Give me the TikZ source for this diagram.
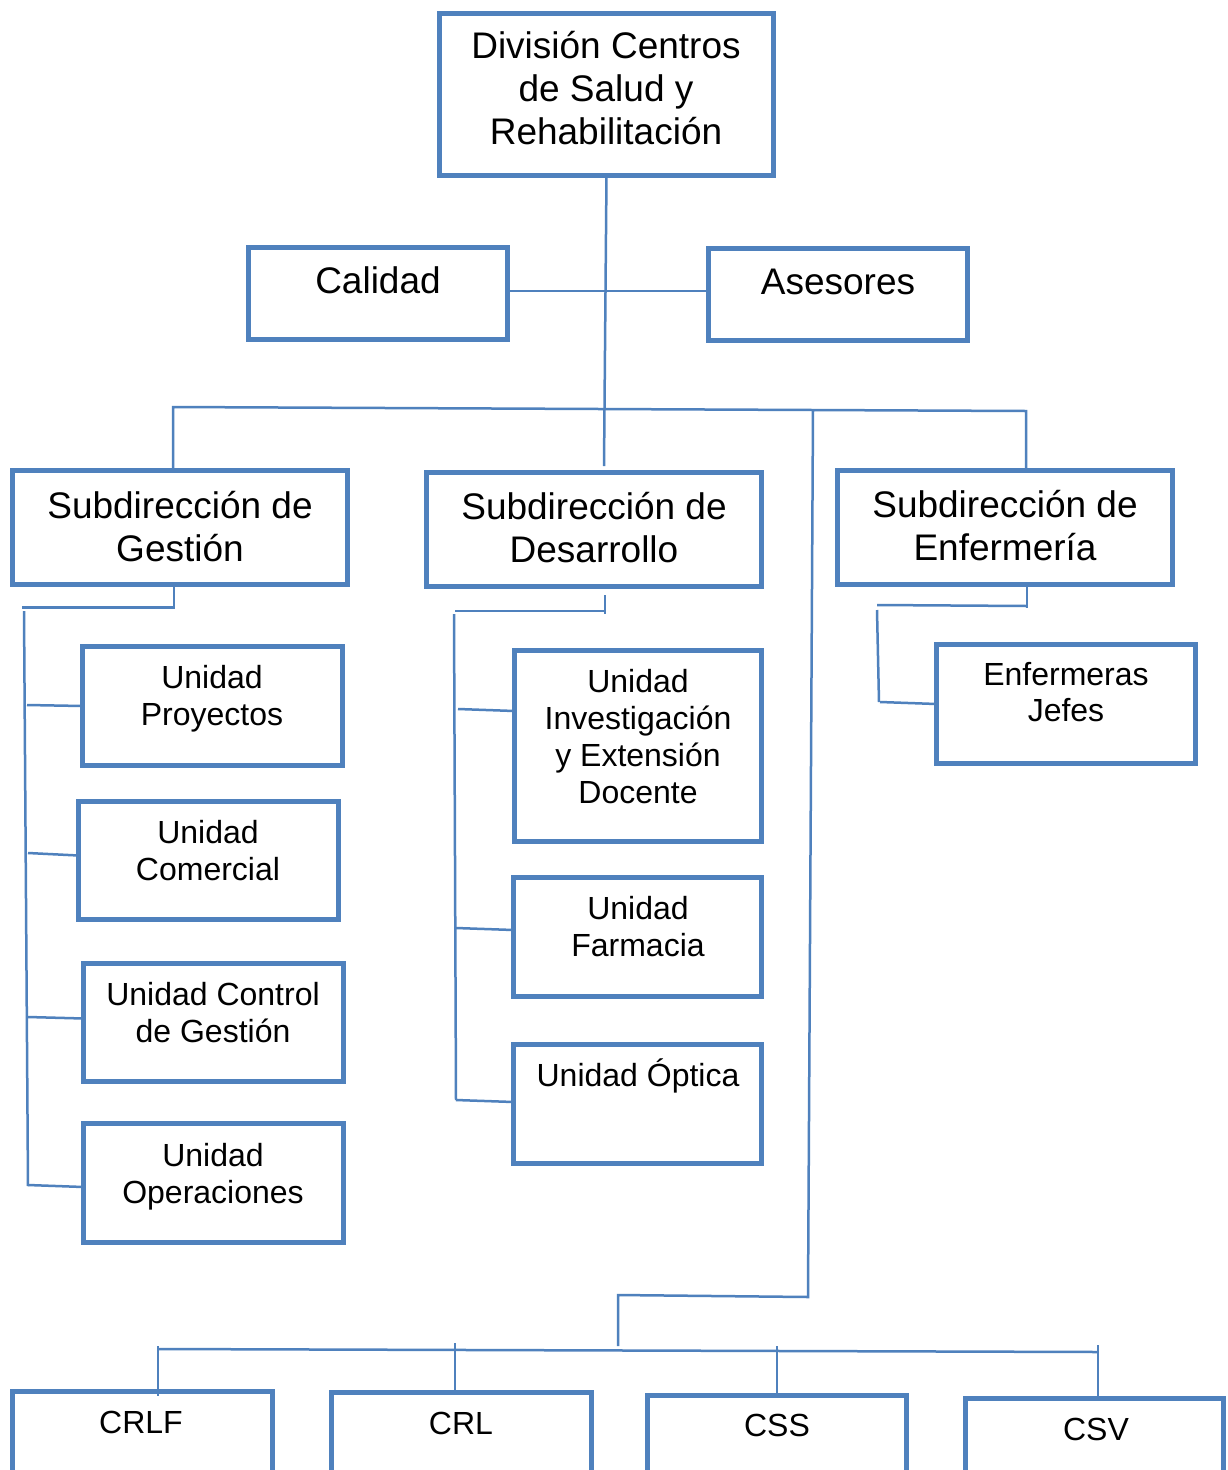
\documentclass[tikz,border=0pt]{standalone}
\usepackage{fontspec}
\setmainfont{Liberation Sans}
\definecolor{boxblue}{HTML}{4F81BD}
\begin{document}
\begin{tikzpicture}[x=1pt,y=-1pt,
  box/.style={draw=boxblue, line width=5pt, rectangle, inner sep=0pt, outer sep=0pt},
  conn/.style={draw=boxblue, line width=2.5pt},
  bigtxt/.style={font=\fontsize{37}{43}\selectfont, align=center, inner sep=0pt, anchor=north},
  smalltxt/.style={font=\fontsize{32}{37}\selectfont, align=center, inner sep=0pt, anchor=north},
  enftxt/.style={font=\fontsize{32}{36}\selectfont, align=center, inner sep=0pt, anchor=north}]
\clip (0,0) rectangle (1227,1470);
\fill[white] (0,0) rectangle (1227,1470);
% boxes
\node[box, minimum width=334pt, minimum height=162pt] (top) at (606.5,94.5) {};
\node[box, minimum width=259pt, minimum height=92pt] (cal) at (378,293.5) {};
\node[box, minimum width=259pt, minimum height=92pt] (ase) at (838,294.5) {};
\node[box, minimum width=335pt, minimum height=114pt] (sg) at (180,527.5) {};
\node[box, minimum width=335pt, minimum height=114pt] (sd) at (594,529.5) {};
\node[box, minimum width=335pt, minimum height=114pt] (se) at (1005,527.5) {};
\node[box, minimum width=260pt, minimum height=119pt] (up) at (212.5,706) {};
\node[box, minimum width=260pt, minimum height=118pt] (uc) at (208.5,860.5) {};
\node[box, minimum width=260pt, minimum height=118pt] (ucg) at (213.5,1022.5) {};
\node[box, minimum width=260pt, minimum height=119pt] (uo) at (213.5,1183) {};
\node[box, minimum width=247pt, minimum height=191pt] (ui) at (638,746) {};
\node[box, minimum width=248pt, minimum height=119pt] (uf) at (637.5,937) {};
\node[box, minimum width=248pt, minimum height=119pt] (uop) at (637.5,1104) {};
\node[box, minimum width=259pt, minimum height=119pt] (ej) at (1066,704) {};
\node[box, minimum width=260pt, minimum height=108.5pt] (crlf) at (142.5,1445.75) {};
\node[box, minimum width=260pt, minimum height=107.5pt] (crl) at (461.5,1446.25) {};
\node[box, minimum width=259pt, minimum height=104.5pt] (css) at (777,1447.75) {};
\node[box, minimum width=258pt, minimum height=101.5pt] (csv) at (1094.5,1449.25) {};
% texts
\node[bigtxt] (topT) at (606,22) {\rule{0pt}{36pt}División Centros\\de Salud y\\Rehabilitación};
\node[bigtxt] (calT) at (378,257) {\rule{0pt}{36pt}Calidad};
\node[bigtxt] (aseT) at (838,258) {\rule{0pt}{36pt}Asesores};
\node[bigtxt] (sgT) at (180,482) {\rule{0pt}{36pt}Subdirección de\\Gestión};
\node[bigtxt] (sdT) at (594,483) {\rule{0pt}{36pt}Subdirección de\\Desarrollo};
\node[bigtxt] (seT) at (1005,481) {\rule{0pt}{36pt}Subdirección de\\Enfermería};
\node[smalltxt] (upT) at (212,657) {\rule{0pt}{31pt}Unidad\\Proyectos};
\node[smalltxt] (ucT) at (208,812) {\rule{0pt}{31pt}Unidad\\Comercial};
\node[smalltxt] (ucgT) at (213,974) {\rule{0pt}{31pt}Unidad Control\\de Gestión};
\node[smalltxt] (uoT) at (213,1135) {\rule{0pt}{31pt}Unidad\\Operaciones};
\node[smalltxt] (uiT) at (638,661) {\rule{0pt}{31pt}Unidad\\Investigación\\y Extensión\\Docente};
\node[smalltxt] (ufT) at (638,888) {\rule{0pt}{31pt}Unidad\\Farmacia};
\node[smalltxt] (uopT) at (638,1055) {\rule{0pt}{31pt}Unidad Óptica};
\node[enftxt] (ejT) at (1066,654) {\rule{0pt}{31pt}Enfermeras\\Jefes};
\node[smalltxt] (crlfT) at (141,1402) {\rule{0pt}{31pt}CRLF};
\node[smalltxt] (crlT) at (461,1403) {\rule{0pt}{31pt}CRL};
\node[smalltxt] (cssT) at (777,1405) {\rule{0pt}{31pt}CSS};
\node[smalltxt] (csvT) at (1096,1409) {\rule{0pt}{31pt}CSV};
% junction coordinates
\coordinate (busL) at (173,407);
\coordinate (busV) at (813,410);
\coordinate (busR) at (1026,411);
\coordinate (vBot) at (808,1297);
\coordinate (hEnd) at (618,1295);
\coordinate (hDrop) at (618,1346);
\coordinate (bL) at (158,1349);
\coordinate (bR) at (1098,1352);
% top connectors
\draw[conn] (top.south) -- (604,466);
\draw[conn] ([yshift=2.5pt]cal.east) -- ([yshift=3.5pt]ase.west);
\draw[conn] (busL |- sg.north) -- (busL) -- (busR) -- (busR |- se.north);
\draw[conn] (busV) -- (vBot) -- (hEnd) -- (hDrop);
% bottom bus
\draw[conn] (bL) -- (bR);
\draw[conn] (158,1346) -- (158,1396);
\draw[conn] (455,1343) -- (455,1392);
\draw[conn] (777,1346) -- (777,1397);
\draw[conn] (1098,1345) -- (1098,1398);
% Gestion subtree
\draw[conn] (174,587) -- (174,609);
\draw[conn] (174,607.5) -- (22,607.5);
\draw[conn] (24,611) -- (28,1186);
\draw[conn] (27,705) -- (up.west);
\draw[conn] (28,853) -- ([yshift=5pt]uc.west);
\draw[conn] (28,1017) -- ([yshift=4pt]ucg.west);
\draw[conn] (28,1185) -- ([yshift=-4pt]uo.west);
% Desarrollo subtree
\draw[conn] (605,595) -- (605,614);
\draw[conn] (455,611) -- (605,611);
\draw[conn] (454,614) -- (456,1100);
\draw[conn] (458,709) -- ([yshift=35pt]ui.west);
\draw[conn] (456,928) -- ([yshift=7pt]uf.west);
\draw[conn] (456,1100) -- ([yshift=2pt]uop.west);
% Enfermeria subtree
\draw[conn] (1027,587) -- (1027,608);
\draw[conn] (877,605) -- (1027,606);
\draw[conn] (877,610) -- (879,702);
\draw[conn] (880,702) -- (ej.west);
\end{tikzpicture}
\end{document}
